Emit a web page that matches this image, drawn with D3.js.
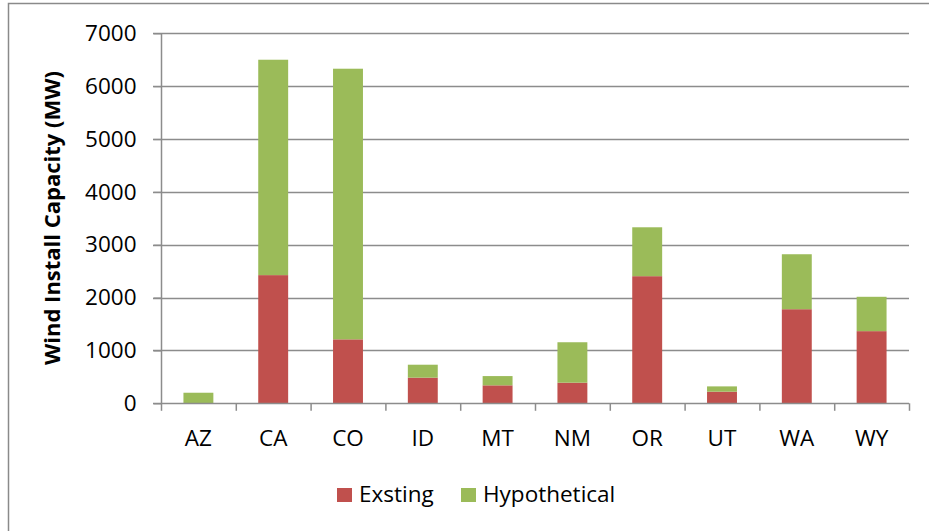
<!DOCTYPE html>
<html>
<head>
<meta charset="utf-8">
<script src="https://cdn.jsdelivr.net/npm/d3@7"></script>
<style>
  html, body { margin: 0; padding: 0; background: #fff; }
  svg { display: block; }
</style>
</head>
<body>
<svg id="chart" width="929" height="531"></svg>
<script>
const categories = ["AZ", "CA", "CO", "ID", "MT", "NM", "OR", "UT", "WA", "WY"];
const existing = [0, 2425, 1210, 485, 340, 390, 2405, 220, 1780, 1365];
const hypothetical = [200, 4075, 5120, 245, 175, 765, 925, 100, 1040, 650];
const seriesNames = ["Exsting", "Hypothetical"];
const seriesColors = ["#C0504D", "#9BBB59"];
const yTicks = [0, 1000, 2000, 3000, 4000, 5000, 6000, 7000];
const yLabel = "Wind Install Capacity (MW)";

(function () {
const svg = d3.select("#chart");
const FONT = "'Open Sans', 'Noto Sans', sans-serif";
const pLeft = 161, pRight = 909, pTop = 33.3, pBottom = 403.3;

// outer frame
svg.append("path")
  .attr("d", `M8.5,531 L8.5,3.5 L929,3.5`)
  .attr("fill", "none").attr("stroke", "#8a8a8a").attr("stroke-width", 1.5);

const x = d3.scaleBand().domain(categories).range([pLeft, pRight]).paddingInner(0.6).paddingOuter(0.3);
const y = d3.scaleLinear().domain([0, 7000]).range([pBottom, pTop]);

// gridlines
svg.append("g").selectAll("line").data(yTicks.filter(d => d > 0)).join("line")
  .attr("x1", pLeft - 8).attr("x2", pRight)
  .attr("y1", d => Math.round(y(d)) + 0.5).attr("y2", d => Math.round(y(d)) + 0.5)
  .attr("stroke", "#8c8c8c").attr("stroke-width", 1.3);

// stacked bars
const rows = categories.map((c, i) => ({ cat: c, Exsting: existing[i], Hypothetical: hypothetical[i] }));
const stack = d3.stack().keys(seriesNames)(rows);
svg.append("g").selectAll("g").data(stack).join("g")
  .attr("fill", (d, i) => seriesColors[i])
  .selectAll("rect").data(d => d).join("rect")
  .attr("x", d => x(d.data.cat))
  .attr("width", x.bandwidth())
  .attr("y", d => y(d[1]))
  .attr("height", d => Math.max(0, y(d[0]) - y(d[1])));

// y axis
const yAxis = d3.axisLeft(y).tickValues(yTicks).tickSize(8).tickPadding(17).tickFormat(d3.format("d"));
const gy = svg.append("g").attr("transform", `translate(${pLeft + 0.5},0)`).call(yAxis);
gy.select(".domain").attr("stroke", "#8c8c8c").attr("stroke-width", 1.5).attr("d", `M0,${pTop}V${pBottom}`);
gy.selectAll(".tick line").attr("stroke", "#8c8c8c").attr("stroke-width", 1.3);
gy.selectAll("text").attr("font-family", FONT).attr("font-size", 22.5).attr("fill", "#000");

// x axis
const xb = d3.scaleLinear().domain([0, categories.length]).range([pLeft, pRight]);
const gx = svg.append("g");
gx.append("line").attr("x1", pLeft - 8).attr("x2", pRight).attr("y1", pBottom + 0.2).attr("y2", pBottom + 0.2)
  .attr("stroke", "#8c8c8c").attr("stroke-width", 1.5);
gx.selectAll("line.tk").data(d3.range(categories.length + 1)).join("line").attr("class", "tk")
  .attr("x1", d => xb(d) + 0.5).attr("x2", d => xb(d) + 0.5)
  .attr("y1", pBottom).attr("y2", pBottom + 7.5)
  .attr("stroke", "#8c8c8c").attr("stroke-width", 1.5);
gx.selectAll("text").data(categories).join("text")
  .attr("x", d => x(d) + x.bandwidth() / 2)
  .attr("y", 446)
  .attr("text-anchor", "middle")
  .attr("font-family", FONT).attr("font-size", 22.5).attr("fill", "#000")
  .text(d => d);

// y label
svg.append("text")
  .attr("transform", `translate(60,218) rotate(-90)`)
  .attr("text-anchor", "middle")
  .attr("font-family", FONT).attr("font-weight", "bold").attr("font-size", 22).attr("fill", "#000")
  .text(yLabel);

// legend
const legendItems = [{ x: 337, name: seriesNames[0], color: seriesColors[0] }, { x: 461, name: seriesNames[1], color: seriesColors[1] }];
const lg = svg.append("g").selectAll("g").data(legendItems).join("g")
  .attr("transform", d => `translate(${d.x},0)`);
lg.append("rect").attr("x", 0).attr("y", 488).attr("width", 15).attr("height", 14).attr("fill", d => d.color);
lg.append("text").attr("x", 22).attr("y", 502)
  .attr("font-family", FONT).attr("font-size", 22.5).attr("fill", "#000")
  .text(d => d.name);
})();
</script>
</body>
</html>
